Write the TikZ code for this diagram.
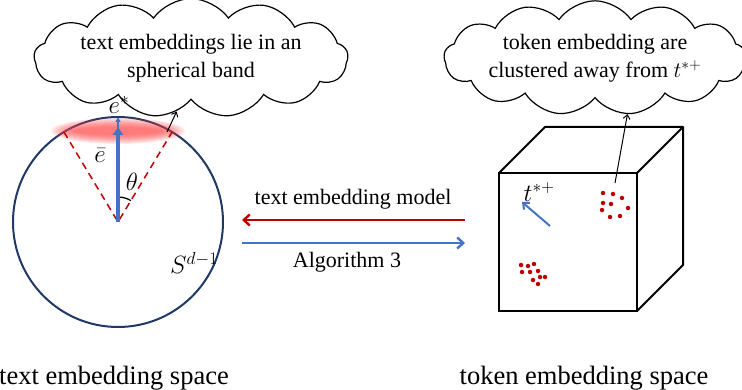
\documentclass[tikz,border=0pt]{standalone}
\usepackage{fix-cm}
\usepackage{fontspec}
\setmainfont{Liberation Serif}
\usetikzlibrary{arrows.meta, positioning, shapes.symbols}
\definecolor{navy}{HTML}{1F3864}
\definecolor{lineblue}{HTML}{4472C4}
\definecolor{darkred}{HTML}{C00000}

\begin{document}
\begin{tikzpicture}[x=1pt, y=1pt, font=\fontsize{22}{28}\selectfont,
    thought/.style={cloud, cloud puffs=13, cloud puff arc=110, aspect=3.8, draw, line width=1.2pt, align=center, inner sep=0pt},
    barb/.style={-{Straight Barb[length=6pt, width=11pt]}, line width=2.4pt},
    pointer/.style={-{Straight Barb[length=4pt, width=7pt]}, line width=1pt},
    dot/.style={circle, fill=darkred, inner sep=0pt, minimum size=4.5pt},
    symb/.style={font=\fontsize{25}{30}\selectfont, inner sep=0pt},
    caption/.style={font=\fontsize{26.5}{30}\selectfont, anchor=base}]
    \useasboundingbox (0,0) rectangle (742,389);

    \node[circle, draw=navy, line width=2pt, minimum size=210pt, inner sep=0pt, outer sep=0pt] (sphere) at (118,167) {};
    \coordinate (band) at (118,258);
    \foreach \k in {0,...,9}
        \fill[red!75!white, fill opacity=0.11] (band) ellipse ({67-2.5*\k} and {13-\k});
    \draw[darkred, line width=1.5pt, dash pattern=on 7pt off 5pt] (sphere.121) -- (sphere.center) -- (sphere.59);
    \draw[line width=1.3pt] ([shift={(90:25)}]sphere.center) arc (90:59:25);
    \draw[lineblue, line width=1.3pt, -{Triangle[length=5pt, width=5pt]}] (sphere.center) -- (sphere.north);
    \draw[lineblue, line width=4pt, -{Triangle[length=8pt, width=10pt]}] (sphere.center) -- ++(0,95);
    \node[symb] (estar) at (119,284) {$e^*$};
    \node[symb] (ebar) at (100,233) {$\bar{e}$};
    \node[symb] (theta) at (132,207) {$\theta$};
    \node[symb] (sdim) at (194,126) {$S^{d-1}$};

    \node[thought, minimum width=308pt, minimum height=80pt] (bandcloud) at (191,331) {text embeddings lie in an\\spherical band};
    \node[thought, minimum width=300pt, minimum height=85pt] (tokencloud) at (595,331) {token embedding are\\clustered away from $t^{*+}$};
    \coordinate (bandedge) at (167,257);
    \draw[pointer] (bandedge) -- (bandcloud.255);

    \node[draw, line width=2pt, minimum size=138pt, inner sep=0pt, outer sep=0pt] (front) at (568,147) {};
    \draw[line width=2pt, line join=round] (front.north west) -- ++(46,46) -- ++(138,0) coordinate (backtop) -- ++(0,-138) -- (front.south east);
    \draw[line width=2pt] (front.north east) -- (backtop);

    \node[symb] (tstar) at (539,197) {$t^{*+}$};
    \coordinate (ttail) at (550,163);
    \coordinate (thead) at (522,187);
    \draw[lineblue, line width=2pt, -{Straight Barb[length=5pt, width=9pt]}] (ttail) -- (thead);

    \foreach \x/\y [count=\i] in {603/196, 613/195, 622/191, 603/186, 611/185, 628/181, 602/179, 610/172, 620/173}
        \node[dot] (far\i) at (\x,\y) {};
    \foreach \x/\y [count=\i] in {521/124, 528/123, 534/125, 522/117, 530/117, 538/118, 540/112, 545/112, 533/109, 538/105}
        \node[dot] (near\i) at (\x,\y) {};
    \coordinate (cluster) at (615,206);
    \draw[pointer] (cluster) -- (tokencloud.300);

    \coordinate (cubeside) at (465,169);
    \coordinate (sphereside) at (242,169);
    \draw[barb, darkred] (cubeside) -- (sphereside);
    \node (model) at (353,190) {text embedding model};
    \coordinate (algstart) at (242,146);
    \coordinate (algend) at (465,146);
    \draw[barb, lineblue] (algstart) -- (algend);
    \node (alg) at (347,127) {Algorithm 3};

    \node[caption] (textspace) at (114,5) {text embedding space};
    \node[caption] (tokenspace) at (584,5) {token embedding space};
\end{tikzpicture}
\end{document}
